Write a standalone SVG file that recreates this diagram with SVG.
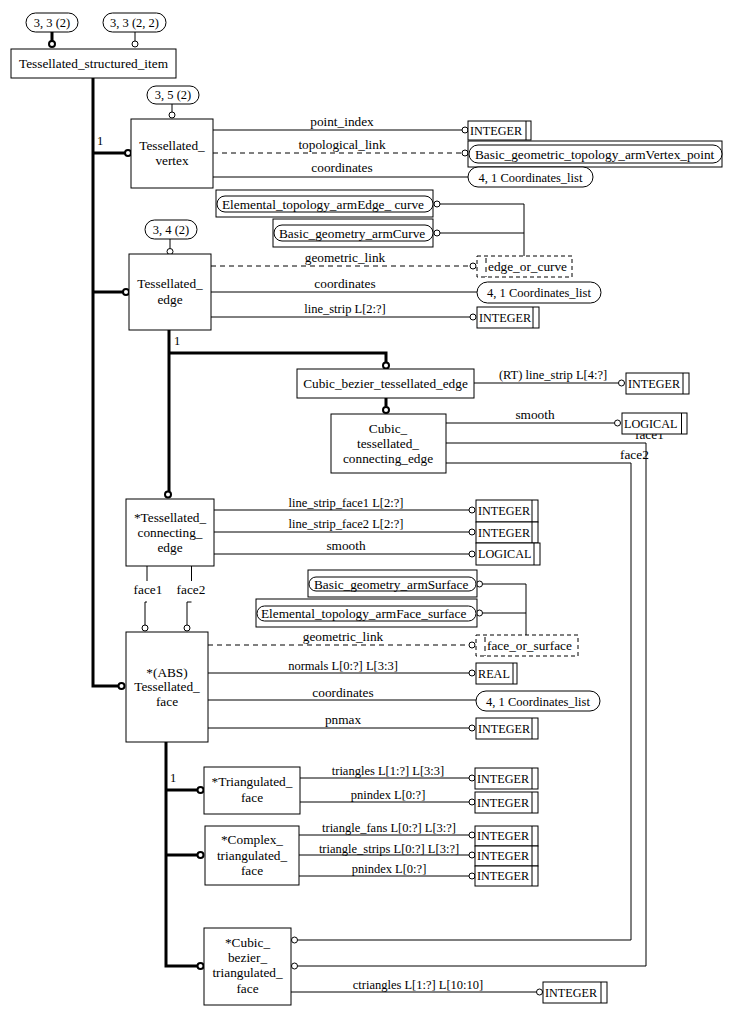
<svg xmlns="http://www.w3.org/2000/svg" width="732" height="1015" viewBox="0 0 732 1015">
<style>
text{font-family:"Liberation Serif","Times New Roman",serif;font-size:13.3px;fill:#000}
.s{font-size:12.2px}
.p{font-size:12.5px}
.m{text-anchor:middle}
.b{fill:#fff;stroke:#000;stroke-width:1}
.bd{fill:#fff;stroke:#000;stroke-width:1;stroke-dasharray:4,3}
.l{fill:none;stroke:#000;stroke-width:1}
.d{fill:none;stroke:#000;stroke-width:1;stroke-dasharray:5,4}
.t{fill:none;stroke:#000;stroke-width:3}
.o{fill:#fff;stroke:#000;stroke-width:1}
.to{fill:#fff;stroke:#000;stroke-width:2}
</style>
<rect width="732" height="1015" fill="#fff"/>
<g id="connectors">
<path class="t" d="M52,32V41"/><circle class="to" cx="52" cy="44" r="3"/>
<path class="l" d="M135,32V41"/><circle class="o" cx="135" cy="44" r="3"/>
<path class="t" d="M93,78V686H118M93,153H125M93,292H123"/>
<circle class="to" cx="128" cy="153" r="3"/><circle class="to" cx="126" cy="292" r="3"/><circle class="to" cx="121.5" cy="686" r="3"/>
<text class="p" x="97" y="145">1</text>
<path class="l" d="M172,104V112"/><circle class="o" cx="172" cy="115" r="3"/>
<path class="l" d="M213,130H462M213,177H468"/><path class="d" d="M213,153H462"/>
<circle class="o" cx="465" cy="130" r="3"/><circle class="o" cx="465" cy="153" r="3"/>
<text class="m" x="342" y="126">point_index</text>
<text class="m" x="342" y="149">topological_link</text>
<text class="m" x="342" y="172">coordinates</text>
<path class="l" d="M440,204H524V256M440,233H524"/>
<circle class="o" cx="437" cy="204" r="3"/><circle class="o" cx="437" cy="233" r="3"/>
<path class="l" d="M170,239V248.5"/><circle class="o" cx="170" cy="251.5" r="3"/>
<path class="d" d="M211,266H470"/><path class="l" d="M211,292H477M211,317H470"/>
<circle class="o" cx="473" cy="266" r="3"/><circle class="o" cx="473" cy="317" r="3"/>
<text class="m" x="345" y="262">geometric_link</text>
<text class="m" x="345" y="288">coordinates</text>
<text class="m p" x="345" y="313">line_strip L[2:?]</text>
<path class="t" d="M169,330V491M169,353H386V362M386,398V406.5"/>
<circle class="to" cx="168" cy="494.5" r="3"/><circle class="to" cx="386" cy="365.5" r="3"/><circle class="to" cx="386" cy="410" r="3"/>
<text class="p" x="174" y="345">1</text>
<path class="l" d="M474,383H618.5M446,423H614.5"/>
<circle class="o" cx="621.5" cy="383" r="3"/><circle class="o" cx="617.5" cy="423" r="3"/>
<text class="m p" x="553" y="379">(RT) line_strip L[4:?]</text>
<text class="m" x="535" y="419">smooth</text>
<text x="635" y="439">face1</text>
<text x="620" y="459">face2</text>
<path class="l" d="M446,443H646V966H297.5M446,463H631V940H297.5"/>
<circle class="o" cx="294.5" cy="940" r="3"/><circle class="o" cx="294.5" cy="966" r="3"/>
<path class="l" d="M214,510H469M214,532H469M214,554H469"/>
<circle class="o" cx="472" cy="510" r="3"/><circle class="o" cx="472" cy="532" r="3"/><circle class="o" cx="472" cy="554" r="3"/>
<text class="m p" x="346" y="507">line_strip_face1 L[2:?]</text>
<text class="m p" x="346" y="528">line_strip_face2 L[2:?]</text>
<text class="m" x="346" y="550">smooth</text>
<path class="l" d="M147,566V581M191.5,566V581M147,602H145V625M191.5,602H187V625"/>
<text class="m" x="148" y="594">face1</text>
<text class="m" x="191" y="594">face2</text>
<circle class="o" cx="145" cy="628" r="3"/><circle class="o" cx="187" cy="628" r="3"/>
<path class="l" d="M482.5,584H526V635M482.5,613H526"/>
<circle class="o" cx="479.5" cy="584" r="3"/><circle class="o" cx="479.5" cy="613" r="3"/>
<path class="d" d="M208,645H469"/><path class="l" d="M208,673H469M208,700H476M208,728H469"/>
<circle class="o" cx="472" cy="645" r="3"/><circle class="o" cx="472" cy="673" r="3"/><circle class="o" cx="472" cy="728" r="3"/>
<text class="m" x="343" y="641">geometric_link</text>
<text class="m p" x="343" y="670">normals L[0:?] L[3:3]</text>
<text class="m" x="343" y="697">coordinates</text>
<text class="m" x="343" y="724">pnmax</text>
<path class="t" d="M166,742V966H197.5M166,790H197.5M166,855H197.5"/>
<circle class="to" cx="200.5" cy="790" r="3"/><circle class="to" cx="200.5" cy="855" r="3"/><circle class="to" cx="200.5" cy="966" r="3"/>
<text class="p" x="170" y="782">1</text>
<path class="l" d="M300,778H469M300,802H469M299,835H469M299,855H469M299,876H469M291,992H536.5"/>
<circle class="o" cx="472" cy="778" r="3"/><circle class="o" cx="472" cy="802" r="3"/>
<circle class="o" cx="472" cy="835" r="3"/><circle class="o" cx="472" cy="855" r="3"/><circle class="o" cx="472" cy="876" r="3"/>
<circle class="o" cx="539.5" cy="992" r="3"/>
<text class="m p" x="388" y="775">triangles L[1:?] L[3:3]</text>
<text class="m p" x="388" y="799">pnindex L[0:?]</text>
<text class="m p" x="389" y="831.5">triangle_fans L[0:?] L[3:?]</text>
<text class="m p" x="389" y="852.5">triangle_strips L[0:?] L[3:?]</text>
<text class="m p" x="389" y="872.5">pnindex L[0:?]</text>
<text class="m p" x="418" y="989">ctriangles L[1:?] L[10:10]</text>
</g>
<g id="ref_3_3_2"><rect class="b" x="26" y="13" width="52" height="19" rx="9.5"/><text class="m p" x="52" y="27">3, 3 (2)</text></g>
<g id="ref_3_3_2_2"><rect class="b" x="103" y="13" width="63" height="19" rx="9.5"/><text class="m p" x="134.5" y="27">3, 3 (2, 2)</text></g>
<g id="tessellated_structured_item"><rect class="b" x="11" y="49" width="165" height="29"/><text class="m" x="93.5" y="67.5">Tessellated_structured_item</text></g>
<g id="ref_3_5_2"><rect class="b" x="147" y="86" width="52" height="18" rx="9"/><text class="m p" x="173" y="99">3, 5 (2)</text></g>
<g id="tessellated_vertex"><rect class="b" x="131" y="119" width="82" height="69"/><text class="m" x="172" y="150">Tessellated_</text><text class="m" x="172" y="165">vertex</text></g>
<g id="integer_1"><rect class="b" x="468" y="121" width="63" height="19"/><path class="l" d="M526,121V140"/><text class="s" x="470" y="135">INTEGER</text></g>
<g id="vertex_point"><rect class="b" x="468" y="141" width="254" height="26"/><rect class="b" x="469" y="145" width="253" height="18" rx="9"/><text x="475" y="158.5">Basic_geometric_topology_armVertex_point</text></g>
<g id="coords_1"><rect class="b" x="468" y="167" width="125" height="20" rx="10"/><text class="m p" x="530.5" y="181.5">4, 1 Coordinates_list</text></g>
<g id="edge_curve"><rect class="b" x="216" y="190" width="217" height="27"/><rect class="b" x="217" y="196" width="216" height="16" rx="8"/><text x="222" y="208.5">Elemental_topology_armEdge_ curve</text></g>
<g id="curve"><rect class="b" x="273" y="219" width="160" height="28"/><rect class="b" x="274" y="225" width="159" height="16" rx="8"/><text x="279" y="237.5">Basic_geometry_armCurve</text></g>
<g id="ref_3_4_2"><rect class="b" x="145" y="220" width="52" height="19" rx="9.5"/><text class="m p" x="171" y="234">3, 4 (2)</text></g>
<g id="tessellated_edge"><rect class="b" x="129" y="254" width="82" height="76"/><text class="m" x="170" y="288">Tessellated_</text><text class="m" x="170" y="304">edge</text></g>
<g id="edge_or_curve"><rect class="bd" x="477" y="256" width="95" height="21"/><path class="d" d="M486,258V277"/><text x="488" y="271">edge_or_curve</text></g>
<g id="coords_2"><rect class="b" x="477" y="282" width="124" height="21" rx="10.5"/><text class="m p" x="539" y="297">4, 1 Coordinates_list</text></g>
<g id="integer_2"><rect class="b" x="477" y="307" width="62" height="21"/><path class="l" d="M533,307V328"/><text class="s" x="479" y="322">INTEGER</text></g>
<g id="cubic_bezier_tessellated_edge"><rect class="b" x="297" y="369" width="177" height="29"/><text class="m" x="385.5" y="388">Cubic_bezier_tessellated_edge</text></g>
<g id="integer_3"><rect class="b" x="626" y="373" width="63" height="21"/><path class="l" d="M683,373V394"/><text class="s" x="628" y="388">INTEGER</text></g>
<g id="cubic_tessellated_connecting_edge"><rect class="b" x="331" y="414" width="115" height="59"/><text class="m" x="388" y="433">Cubic_</text><text class="m" x="388" y="448">tessellated_</text><text class="m" x="388" y="463">connecting_edge</text></g>
<g id="logical_1"><rect class="b" x="622" y="413" width="65" height="21"/><path class="l" d="M681.5,413V434"/><text class="s" x="624" y="428">LOGICAL</text></g>
<g id="tessellated_connecting_edge"><rect class="b" x="126" y="499" width="88" height="67"/><text class="m" x="170" y="522">*Tessellated_</text><text class="m" x="170" y="537">connecting_</text><text class="m" x="170" y="552">edge</text></g>
<g id="integer_4"><rect class="b" x="476" y="500" width="62" height="22"/><path class="l" d="M532,500V522"/><text class="s" x="478" y="515">INTEGER</text></g>
<g id="integer_5"><rect class="b" x="476" y="522" width="62" height="21"/><path class="l" d="M532,522V543"/><text class="s" x="478" y="537">INTEGER</text></g>
<g id="logical_2"><rect class="b" x="476" y="543" width="64" height="22"/><path class="l" d="M534,543V565"/><text class="s" x="478" y="558">LOGICAL</text></g>
<g id="surface"><rect class="b" x="308" y="570" width="169" height="27"/><rect class="b" x="309" y="577" width="167" height="14" rx="7"/><text x="314" y="588.5">Basic_geometry_armSurface</text></g>
<g id="face_surface"><rect class="b" x="256" y="599" width="221" height="28"/><rect class="b" x="257" y="606" width="219" height="15" rx="7.5"/><text x="261" y="617.5">Elemental_topology_armFace_surface</text></g>
<g id="tessellated_face"><rect class="b" x="126" y="632" width="82" height="110"/><text class="m" x="167" y="676.5">*(ABS)</text><text class="m" x="167" y="691">Tessellated_</text><text class="m" x="167" y="706">face</text></g>
<g id="face_or_surface"><rect class="bd" x="476" y="635" width="102" height="21"/><path class="d" d="M485,637V656"/><text x="487" y="650">face_or_surface</text></g>
<g id="real"><rect class="b" x="476" y="663" width="41" height="21"/><path class="l" d="M513,663V684"/><text class="s" x="478" y="678">REAL</text></g>
<g id="coords_3"><rect class="b" x="476" y="691" width="124" height="20" rx="10"/><text class="m p" x="538" y="705.5">4, 1 Coordinates_list</text></g>
<g id="integer_6"><rect class="b" x="476" y="718" width="62" height="21"/><path class="l" d="M532,718V739"/><text class="s" x="478" y="733">INTEGER</text></g>
<g id="triangulated_face"><rect class="b" x="204" y="767" width="96" height="47"/><text class="m" x="252" y="786">*Triangulated_</text><text class="m" x="252" y="802">face</text></g>
<g id="integer_7"><rect class="b" x="475" y="768" width="63" height="21"/><path class="l" d="M532,768V789"/><text class="s" x="477" y="783">INTEGER</text></g>
<g id="integer_8"><rect class="b" x="475" y="792" width="63" height="21"/><path class="l" d="M532,792V813"/><text class="s" x="477" y="807">INTEGER</text></g>
<g id="complex_triangulated_face"><rect class="b" x="205" y="826" width="94" height="59"/><text class="m" x="252" y="844">*Complex_</text><text class="m" x="252" y="860">triangulated_</text><text class="m" x="252" y="875">face</text></g>
<g id="integer_9"><rect class="b" x="475" y="826" width="63" height="20"/><path class="l" d="M532,826V846"/><text class="s" x="477" y="840">INTEGER</text></g>
<g id="integer_10"><rect class="b" x="475" y="846" width="63" height="20"/><path class="l" d="M532,846V866"/><text class="s" x="477" y="860">INTEGER</text></g>
<g id="integer_11"><rect class="b" x="475" y="866" width="63" height="20"/><path class="l" d="M532,866V886"/><text class="s" x="477" y="880">INTEGER</text></g>
<g id="cubic_bezier_triangulated_face"><rect class="b" x="204" y="928" width="87" height="77"/><text class="m" x="247.5" y="947">*Cubic_</text><text class="m" x="247.5" y="962">bezier_</text><text class="m" x="247.5" y="977">triangulated_</text><text class="m" x="247.5" y="993">face</text></g>
<g id="integer_12"><rect class="b" x="543" y="982" width="64" height="21"/><path class="l" d="M601,982V1003"/><text class="s" x="545" y="997">INTEGER</text></g>
</svg>
